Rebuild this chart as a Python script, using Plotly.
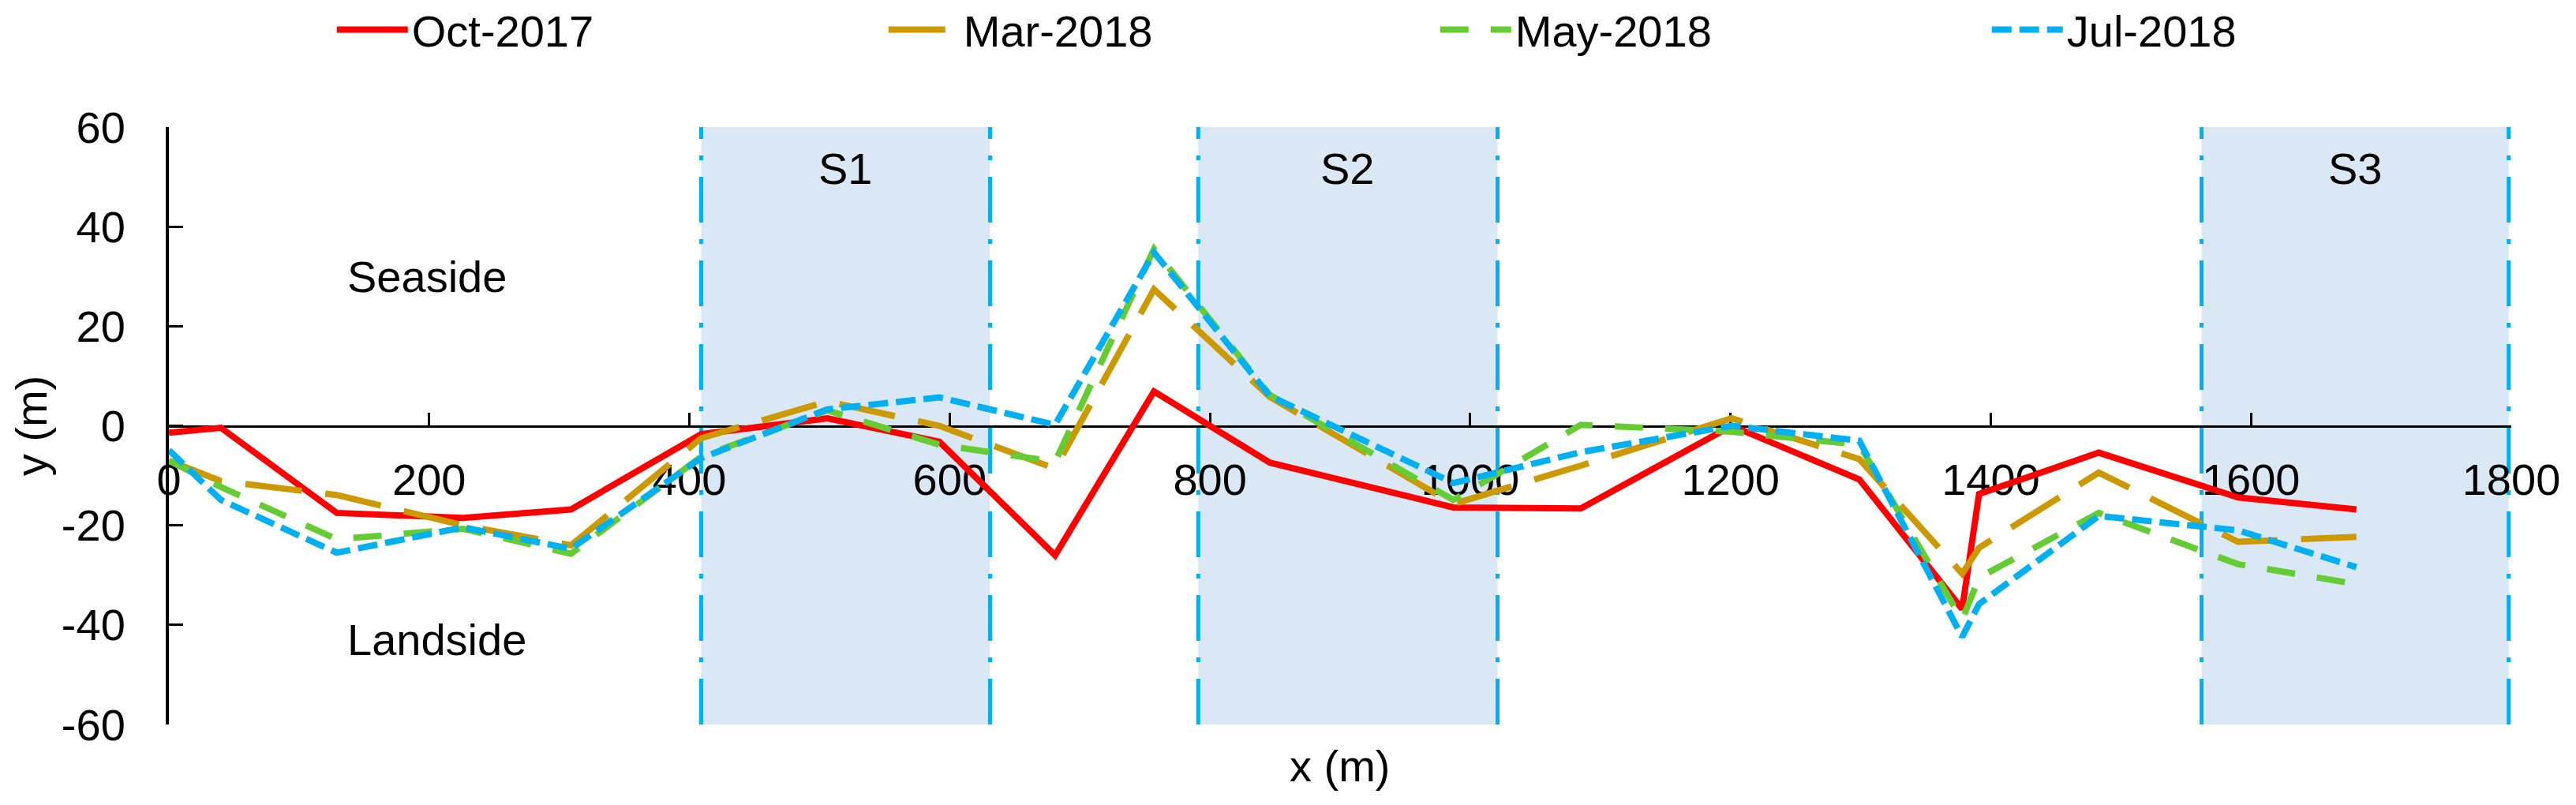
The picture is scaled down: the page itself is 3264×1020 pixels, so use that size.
import plotly.graph_objects as go

# distance along the shoreline (m) and offsets (m) for each survey
station = [0, 40, 129, 226, 309, 409, 506, 592, 681, 757, 846, 987, 1085, 1201, 1299, 1378, 1391, 1483, 1590, 1681]
oct_2017 = [-1.4, -0.4, -17.5, -18.5, -16.8, -1.7, 1.5, -3.2, -26.0, 6.9, -7.4, -16.4, -16.6, 0.0, -10.8, -36.8, -13.7, -5.4, -14.4, -16.8]
mar_2018 = [-7.0, -11.1, -13.9, -20.0, -24.0, -2.5, 4.9, 0.0, -8.6, 27.4, 5.8, -15.7, -8.0, 1.5, -6.7, -29.7, -24.5, -9.4, -23.3, -22.3]
may_2018 = [-7.0, -12.3, -22.8, -20.7, -25.7, -6.2, 3.1, -3.8, -7.2, 35.5, 6.2, -14.9, 0.2, -1.2, -3.8, -39.0, -30.5, -17.5, -27.8, -31.8]
jul_2018 = [-4.9, -14.9, -25.5, -20.4, -24.7, -6.5, 3.3, 5.7, 0.2, 34.8, 6.0, -11.5, -5.3, 0.0, -3.0, -42.4, -35.8, -18.1, -21.0, -28.4]

y_ticks = [-60, -40, -20, 0, 20, 40, 60]
y_tick_labels = ["-60", "-40", "-20", "0", "20", "40", "60"]

zone_names = ["S1", "S2", "S3"]
zone_start = [409, 791, 1562]
zone_end = [631, 1021, 1798]

series = [
    ("Oct-2017", oct_2017, "#FF0000", "solid"),
    ("Mar-2018", mar_2018, "#CC9900", "72px,30px"),
    ("May-2018", may_2018, "#66CC33", "36px,28px"),
    ("Jul-2018", jul_2018, "#00B0F0", "25px,10px"),
]

FONT = "Arial, 'Liberation Sans', sans-serif"

fig = go.Figure()
for name, vals, color, dash in series:
    fig.add_trace(go.Scatter(x=station, y=vals, mode="lines", name=name,
                             line=dict(color=color, width=8, dash=dash)))

shapes = []
for x0, x1 in zip(zone_start, zone_end):
    shapes.append(dict(type="rect", xref="x", yref="y", x0=x0, x1=x1, y0=-60, y1=60.5,
                       fillcolor="#DAE8F5", line=dict(width=0), layer="below"))
    for xe in (x0, x1):
        shapes.append(dict(type="line", xref="x", yref="y", x0=xe, x1=xe, y0=-60, y1=60,
                           line=dict(color="#00B0F0", width=5, dash="58px,21px,6px,21px"),
                           layer="between"))

annotations = []
for nm, x0, x1 in zip(zone_names, zone_start, zone_end):
    annotations.append(dict(x=(x0 + x1) / 2, y=51.6, xref="x", yref="y", text=nm,
                            yanchor="middle", showarrow=False, font=dict(size=56, color="black")))
annotations.append(dict(x=136, y=30, xref="x", yref="y", text="Seaside", xanchor="left",
                        yanchor="middle", showarrow=False, font=dict(size=56, color="black")))
annotations.append(dict(x=136, y=-43, xref="x", yref="y", text="Landside", xanchor="left",
                        yanchor="middle", showarrow=False, font=dict(size=56, color="black")))
annotations.append(dict(x=0.5, y=-0.069, xref="paper", yref="paper", text="x (m)",
                        yanchor="middle", showarrow=False, font=dict(size=56, color="black")))

fig.update_layout(
    width=3264, height=1020,
    margin=dict(l=206, r=90, t=153, b=110, autoexpand=False),
    paper_bgcolor="white", plot_bgcolor="white",
    font=dict(family=FONT, size=56, color="black"),
    shapes=shapes, annotations=annotations,
    legend=dict(orientation="h", x=0.070, y=1.163, xanchor="left", yanchor="middle",
                font=dict(size=56), entrywidth=594, itemwidth=90,
                bgcolor="rgba(0,0,0,0)"),
    xaxis=dict(range=[0, 1800], dtick=200, tick0=0, showgrid=False, zeroline=False,
               showline=True, linecolor="black", linewidth=3,
               ticks="inside", ticklen=16, tickwidth=3, tickcolor="black",
               anchor="free", position=0.5, automargin=False, ticklabelstandoff=18,
               tickfont=dict(size=56), layer="below traces"),
    yaxis=dict(range=[-60, 60], tickvals=y_ticks, ticktext=y_tick_labels,
               showgrid=False, zeroline=False,
               showline=True, linecolor="black", linewidth=4,
               ticks="inside", ticklen=18, tickwidth=3, tickcolor="black",
               automargin=False, tickfont=dict(size=56), ticklabelstandoff=40,
               title=dict(text="y (m)", font=dict(size=56), standoff=2),
               layer="below traces"),
)

fig.write_html("out.html")
